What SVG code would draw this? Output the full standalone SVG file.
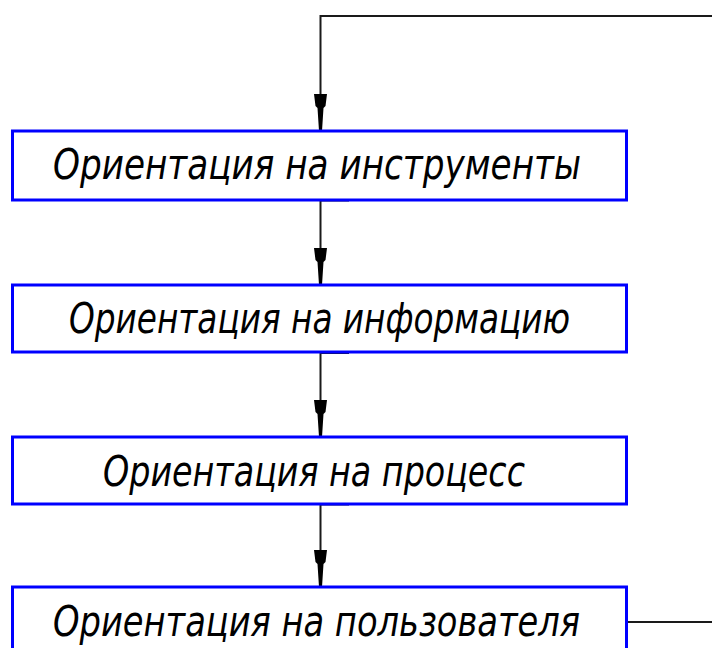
<svg xmlns="http://www.w3.org/2000/svg" width="712" height="648" viewBox="0 0 712 648">
  <style>
    .box { fill: #ffffff; stroke: #0000ff; stroke-width: 3; }
    .lbl { font-family: "DejaVu Sans Condensed", "DejaVu Sans", sans-serif; font-stretch: condensed; font-style: italic; font-weight: 200; font-size: 42px; fill: #000000; }
    .wire { fill: none; stroke: #1a1a1a; stroke-width: 2; }
    .head { fill: #000000; stroke: none; }
  </style>
  <defs>
    <!-- arrowhead, tip at (0,0) -->
    <polygon id="ah" points="-6.5,-37 6.5,-37 5,-25 3,-23 1.5,0 -1.5,0 -3,-23 -5,-25"/>
  </defs>

  <rect width="712" height="648" fill="#ffffff"/>

  <g id="connectors">
    <!-- feedback loop from the last block back to the first -->
    <polyline class="wire" points="627,622 712,622"/>
    <polyline class="wire" points="712,16 320.5,16 320.5,131"/>
    <use href="#ah" class="head" x="320.5" y="131"/>
    <!-- block 1 -> block 2 -->
    <polyline class="wire" points="349,200.5 320.5,200.5 320.5,285"/>
    <use href="#ah" class="head" x="320.5" y="285"/>
    <!-- block 2 -> block 3 -->
    <polyline class="wire" points="349,353 320.5,353 320.5,437"/>
    <use href="#ah" class="head" x="320.5" y="437"/>
    <!-- block 3 -> block 4 -->
    <polyline class="wire" points="349,504.5 320.5,504.5 320.5,587"/>
    <use href="#ah" class="head" x="320.5" y="587"/>
  </g>

  <g id="n1">
    <rect class="box" x="12.5" y="131" width="614" height="69"/>
    <text class="lbl" x="53" y="179" textLength="528" lengthAdjust="spacingAndGlyphs">Ориентация на инструменты</text>
  </g>
  <g id="n2">
    <rect class="box" x="12.5" y="285" width="614" height="67"/>
    <text class="lbl" x="69" y="333" textLength="501" lengthAdjust="spacingAndGlyphs">Ориентация на информацию</text>
  </g>
  <g id="n3">
    <rect class="box" x="12.5" y="437" width="614" height="67"/>
    <text class="lbl" x="103" y="486" textLength="422" lengthAdjust="spacingAndGlyphs">Ориентация на процесс</text>
  </g>
  <g id="n4">
    <rect class="box" x="12.5" y="587" width="614" height="80"/>
    <text class="lbl" x="53" y="636" textLength="527" lengthAdjust="spacingAndGlyphs">Ориентация на пользователя</text>
  </g>
</svg>
